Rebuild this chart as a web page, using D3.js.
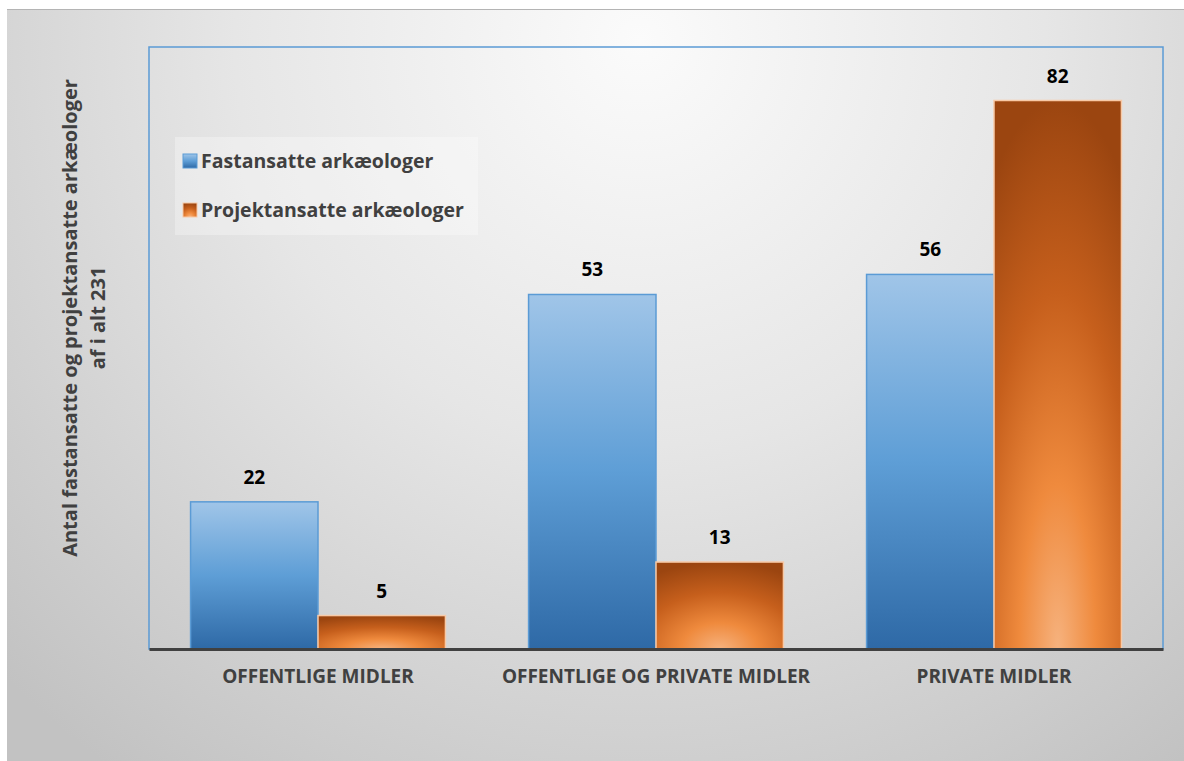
<!DOCTYPE html>
<html lang="da">
<head>
    <meta charset="UTF-8">
    <title>Arkæologer fordelt på finansiering</title>
    <script src="https://d3js.org/d3.v7.min.js"></script>
    <style>
        body { margin: 0; background: #fff; overflow: hidden; }
        text { font-family: "Open Sans", "Noto Sans", sans-serif; font-weight: bold; }
    </style>
</head>
<body>
<script>
    // data
    const categories = ["OFFENTLIGE MIDLER", "OFFENTLIGE OG PRIVATE MIDLER", "PRIVATE MIDLER"];
    const seriesNames = ["Fastansatte arkæologer", "Projektansatte arkæologer"];
    const fastansatte = [22, 53, 56];
    const projektansatte = [5, 13, 82];
    const yTitle = ["Antal fastansatte og projektansatte arkæologer", "af i alt 231"];

    const width = 1184, height = 761;
    const plot = {left: 149, right: 1163, top: 47, bottom: 649};

    const svg = d3.select("body").append("svg")
        .attr("width", width)
        .attr("height", height);

    const defs = svg.append("defs");

    // chart background
    const bg = defs.append("radialGradient").attr("id", "bg")
        .attr("gradientUnits", "userSpaceOnUse")
        .attr("cx", 640).attr("cy", 40).attr("r", 900);
    bg.append("stop").attr("offset", 0).attr("stop-color", "#fbfbfb");
    bg.append("stop").attr("offset", 0.45).attr("stop-color", "#e6e6e6");
    bg.append("stop").attr("offset", 1).attr("stop-color", "#c2c2c2");

    const blue = defs.append("linearGradient").attr("id", "blue")
        .attr("x1", 0).attr("y1", 0).attr("x2", 0).attr("y2", 1);
    blue.append("stop").attr("offset", 0).attr("stop-color", "#a0c5e8");
    blue.append("stop").attr("offset", 0.5).attr("stop-color", "#5e9ed6");
    blue.append("stop").attr("offset", 1).attr("stop-color", "#2e69a6");

    const orange = defs.append("radialGradient").attr("id", "orange")
        .attr("cx", 0.5).attr("cy", 1).attr("r", 1);
    orange.append("stop").attr("offset", 0).attr("stop-color", "#f6b27e");
    orange.append("stop").attr("offset", 0.3).attr("stop-color", "#ef8a3d");
    orange.append("stop").attr("offset", 0.65).attr("stop-color", "#c65f1c");
    orange.append("stop").attr("offset", 1).attr("stop-color", "#9b4510");

    svg.append("rect")
        .attr("x", 7).attr("y", 9)
        .attr("width", width - 7).attr("height", height - 9)
        .attr("fill", "url(#bg)");
    svg.append("line")
        .attr("x1", 7).attr("x2", width).attr("y1", 9.5).attr("y2", 9.5)
        .attr("stroke", "#b4b4b4");

    // plot area
    svg.append("rect")
        .attr("x", plot.left).attr("y", plot.top)
        .attr("width", plot.right - plot.left).attr("height", plot.bottom - plot.top)
        .attr("fill", "none")
        .attr("stroke", "#5b9bd5")
        .attr("stroke-width", 1.5);

    const x0 = d3.scaleBand().domain(categories).range([plot.left, plot.right]).padding(0);
    const x1 = d3.scaleBand().domain(seriesNames)
        .range([x0.bandwidth() * 0.123, x0.bandwidth() * 0.877]).padding(0);
    const y = d3.scaleLinear().domain([0, 90]).range([plot.bottom, plot.top]);

    const rows = categories.map((c, i) => ({
        cat: c,
        values: [
            {name: seriesNames[0], v: fastansatte[i]},
            {name: seriesNames[1], v: projektansatte[i]}
        ]
    }));

    const groups = svg.selectAll("g.cat")
        .data(rows)
        .enter().append("g")
        .attr("class", "cat")
        .attr("transform", d => `translate(${x0(d.cat)},0)`);

    groups.selectAll("rect")
        .data(d => d.values)
        .enter().append("rect")
        .attr("x", d => x1(d.name))
        .attr("y", d => y(d.v))
        .attr("width", x1.bandwidth())
        .attr("height", d => y(0) - y(d.v))
        .attr("fill", d => d.name === seriesNames[0] ? "url(#blue)" : "url(#orange)")
        .attr("stroke", d => d.name === seriesNames[0] ? "#5b9bd5" : "#f8c9a6")
        .attr("stroke-width", 1.5);

    groups.selectAll("text.val")
        .data(d => d.values)
        .enter().append("text")
        .attr("class", "val")
        .attr("x", d => x1(d.name) + x1.bandwidth() / 2)
        .attr("y", d => y(d.v) - 18)
        .attr("text-anchor", "middle")
        .attr("font-size", 19)
        .attr("fill", "#000")
        .text(d => d.v);

    // x axis
    const xAxis = svg.append("g")
        .attr("transform", `translate(0,${plot.bottom})`)
        .call(d3.axisBottom(x0).tickSize(0).tickPadding(21));
    xAxis.select(".domain").attr("stroke", "#404040").attr("stroke-width", 3);
    xAxis.selectAll("text")
        .attr("font-size", 19)
        .attr("font-family", "'Open Sans', sans-serif")
        .attr("font-weight", "bold")
        .attr("fill", "#404040");

    // y title
    svg.append("text")
        .attr("transform", "translate(77,318) rotate(-90)")
        .attr("text-anchor", "middle")
        .attr("font-size", 20)
        .attr("fill", "#404040")
        .selectAll("tspan")
        .data(yTitle)
        .enter().append("tspan")
        .attr("x", 0)
        .attr("dy", (d, i) => i === 0 ? 0 : 28)
        .text(d => d);

    // legend
    const legend = svg.append("g").attr("transform", "translate(175,137)");
    legend.append("rect")
        .attr("width", 303).attr("height", 98)
        .attr("fill", "#ffffff").attr("fill-opacity", 0.3);
    const items = legend.selectAll("g.item")
        .data(seriesNames)
        .enter().append("g")
        .attr("class", "item")
        .attr("transform", (d, i) => `translate(8,${24 + i * 49})`);
    items.append("rect")
        .attr("x", 0).attr("y", -7)
        .attr("width", 14).attr("height", 14)
        .attr("fill", (d, i) => i === 0 ? "url(#blue)" : "url(#orange)")
        .attr("stroke", (d, i) => i === 0 ? "#5b9bd5" : "#f8c9a6");
    items.append("text")
        .attr("x", 18).attr("dy", "0.35em")
        .attr("font-size", 19.5)
        .attr("fill", "#404040")
        .text(d => d);
</script>
</body>
</html>
